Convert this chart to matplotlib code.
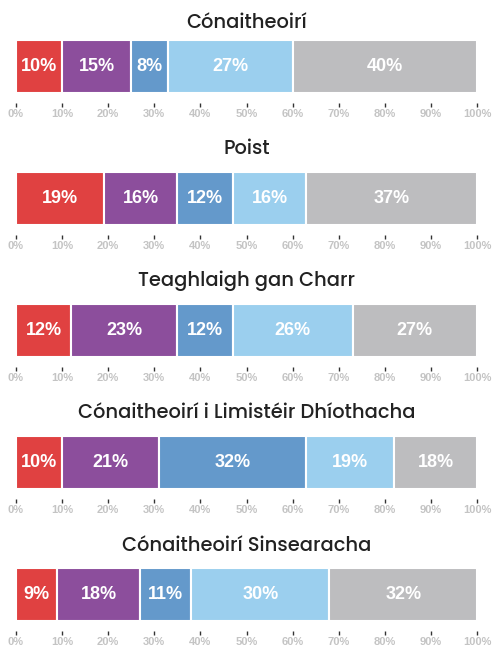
import matplotlib
matplotlib.use("Agg")
import matplotlib.pyplot as plt
from matplotlib import font_manager as fm

# Groups shown as one stacked bar each
titles = [
    "Cónaitheoirí",
    "Poist",
    "Teaghlaigh gan Charr",
    "Cónaitheoirí i Limistéir Dhíothacha",
    "Cónaitheoirí Sinsearacha",
]

# Share (%) in each of the five bands, one list per group
shares = [
    [10, 15, 8, 27, 40],
    [19, 16, 12, 16, 37],
    [12, 23, 12, 26, 27],
    [10, 21, 32, 19, 18],
    [9, 18, 11, 30, 32],
]

colors = ["#E04141", "#8C4E9C", "#6499CB", "#9BCFEE", "#BDBDBF"]
tick_vals = list(range(0, 101, 10))
tick_labels = [f"{v}%" for v in tick_vals]

plt.rcParams["font.family"] = ["Liberation Sans", "DejaVu Sans"]


def pick_title_font():
    # a geometric sans at medium weight, static files only
    for name in ["Montserrat", "Poppins"]:
        cands = [f for f in fm.fontManager.ttflist
                 if f.name == name and f.style == "normal" and 400 <= f.weight <= 600]
        if cands:
            best = min(cands, key=lambda f: abs(f.weight - 500))
            return fm.FontProperties(fname=best.fname, size=14)
    return fm.FontProperties(family="DejaVu Sans", size=14.5)


title_font = pick_title_font()

W, H = 492, 646
fig = plt.figure(figsize=(W / 100, H / 100), dpi=100)

left, right = 16, 477
bar_tops = [40, 172, 304, 436, 568]
title_gaps = [12, 18, 18, 18, 17]   # px between title baseline and bar
bar_h = 53

for top, gap, title, vals in zip(bar_tops, title_gaps, titles, shares):
    ax = fig.add_axes([left / W, 1 - (top + bar_h) / H, (right - left) / W, bar_h / H])
    start = 0
    for v, c in zip(vals, colors):
        ax.barh(0, v, left=start, height=1, color=c, edgecolor="white", linewidth=1.5)
        ax.text(start + v / 2, 0, f"{v}%", ha="center", va="center",
                color="white", fontsize=13, fontweight="bold")
        start += v
    ax.set_xlim(0, 100)
    ax.set_ylim(-0.5, 0.5)
    ax.set_yticks([])
    for s in ["top", "right", "left"]:
        ax.spines[s].set_visible(False)
    ax.spines["bottom"].set_position(("outward", 7))
    ax.spines["bottom"].set_visible(False)
    ax.set_xticks(tick_vals)
    ax.set_xticklabels(tick_labels)
    ax.tick_params(axis="x", length=3, width=1, color="#333333", pad=1.5,
                   labelsize=8, labelcolor="#C4C4C4")
    for lbl in ax.get_xticklabels():
        lbl.set_fontweight("bold")
    ax.set_title(title, fontproperties=title_font, color="#222222", pad=gap * 0.72)

fig.savefig("out.png", dpi=100)
